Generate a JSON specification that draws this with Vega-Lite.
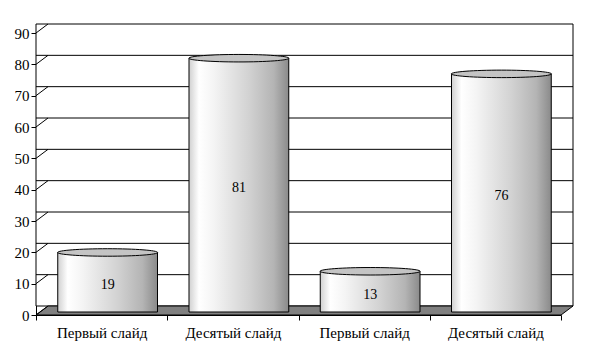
{
  "$schema": "https://vega.github.io/schema/vega-lite/v6.json",
  "autosize": "none",
  "width": 525,
  "height": 282,
  "padding": {"left": 36, "top": 33, "right": 30, "bottom": 37},
  "background": "white",
  "config": {
    "view": {"stroke": null},
    "font": "'Liberation Serif', 'DejaVu Serif', serif",
    "axis": {"labelFont": "'Liberation Serif', 'DejaVu Serif', serif", "labelFontSize": 15, "labelColor": "black", "domainColor": "black", "tickColor": "black", "title": null, "grid": false},
    "text": {"font": "'Liberation Serif', 'DejaVu Serif', serif", "fontSize": 14, "color": "black"}
  },
  "datasets": {
    "bars": [
      {"id": "a", "label": "Первый слайд", "value": 19},
      {"id": "b", "label": "Десятый слайд", "value": 81},
      {"id": "c", "label": "Первый слайд", "value": 13},
      {"id": "d", "label": "Десятый слайд", "value": 76}
    ],
    "ticks": [{"v": 0}, {"v": 10}, {"v": 20}, {"v": 30}, {"v": 40}, {"v": 50}, {"v": 60}, {"v": 70}, {"v": 80}, {"v": 90}],
    "frame": [{"lo": 0, "hi": 90, "first": "a"}]
  },
  "layer": [
    {
      "data": {"name": "frame"},
      "mark": {"type": "rect", "fill": "white", "stroke": "black", "strokeWidth": 1, "xOffset": 12, "yOffset": -9, "y2Offset": -9},
      "encoding": {
        "y": {"field": "lo", "type": "quantitative", "scale": {"domain": [0, 90]},
          "axis": {"values": [0, 10, 20, 30, 40, 50, 60, 70, 80, 90], "title": null, "tickSize": 5, "labelPadding": 2, "labelFont": "'Liberation Serif', 'DejaVu Serif', serif", "labelFontSize": 15, "labelColor": "black"}},
        "y2": {"field": "hi"}
      }
    },
    {
      "data": {"name": "ticks"},
      "transform": [{"filter": "datum.v > 0 && datum.v < 90"}],
      "mark": {"type": "rule", "color": "black", "strokeWidth": 1, "xOffset": 12, "yOffset": -9},
      "encoding": {"y": {"field": "v", "type": "quantitative",
        "axis": {"values": [0, 10, 20, 30, 40, 50, 60, 70, 80, 90], "title": null, "tickSize": 5, "labelPadding": 2, "labelFont": "'Liberation Serif', 'DejaVu Serif', serif", "labelFontSize": 15, "labelColor": "black"}}}
    },
    {
      "data": {"name": "frame"},
      "mark": {"type": "point", "filled": true, "fill": "#808080", "stroke": "black", "strokeWidth": 1, "opacity": 1,
        "size": 1102500, "shape": "M0,0 L1,0 L1.02286,-0.01714 L0.02286,-0.01714 Z"},
      "encoding": {
        "x": {"field": "first", "type": "nominal", "bandPosition": 0, "sort": null,
          "scale": {"domain": ["a", "b", "c", "d"], "paddingInner": 0, "paddingOuter": 0},
          "axis": {"title": null, "labelAngle": 0, "tickBand": "extent", "bandPosition": 0.5, "tickSize": 5, "labelPadding": 5,
            "labelFont": "'Liberation Serif', 'DejaVu Serif', serif", "labelFontSize": 15, "labelColor": "black",
            "labelExpr": "datum.value == 'a' || datum.value == 'c' ? 'Первый слайд' : (datum.value == 'b' || datum.value == 'd' ? 'Десятый слайд' : '')"}},
        "y": {"field": "lo", "type": "quantitative",
          "axis": {"values": [0, 10, 20, 30, 40, 50, 60, 70, 80, 90], "title": null, "tickSize": 5, "labelPadding": 2, "labelFont": "'Liberation Serif', 'DejaVu Serif', serif", "labelFontSize": 15, "labelColor": "black"}}
      }
    },
    {
      "data": {"name": "ticks"},
      "transform": [{"calculate": "'a'", "as": "first"}],
      "mark": {"type": "point", "filled": false, "stroke": "black", "strokeWidth": 1, "opacity": 1,
        "size": 576, "shape": "M0,0 L1,-0.75"},
      "encoding": {
        "x": {"field": "first", "type": "nominal", "bandPosition": 0, "sort": null,
          "axis": {"title": null, "labelAngle": 0, "tickBand": "extent", "bandPosition": 0.5, "tickSize": 5, "labelPadding": 5,
            "labelFont": "'Liberation Serif', 'DejaVu Serif', serif", "labelFontSize": 15, "labelColor": "black",
            "labelExpr": "datum.value == 'a' || datum.value == 'c' ? 'Первый слайд' : (datum.value == 'b' || datum.value == 'd' ? 'Десятый слайд' : '')"}},
        "y": {"field": "v", "type": "quantitative",
          "axis": {"values": [0, 10, 20, 30, 40, 50, 60, 70, 80, 90], "title": null, "tickSize": 5, "labelPadding": 2, "labelFont": "'Liberation Serif', 'DejaVu Serif', serif", "labelFontSize": 15, "labelColor": "black"}}
      }
    },
    {
      "data": {"name": "bars"},
      "mark": {"type": "bar", "width": {"band": 0.76}, "xOffset": 6, "yOffset": -3, "stroke": "black", "strokeWidth": 1,
        "fill": {"gradient": "linear", "x1": 0, "y1": 0, "x2": 1, "y2": 0,
          "stops": [
            {"offset": 0, "color": "#d0d0d0"},
            {"offset": 0.1, "color": "#ffffff"},
            {"offset": 0.25, "color": "#f4f4f4"},
            {"offset": 0.6, "color": "#d2d2d2"},
            {"offset": 0.85, "color": "#b4b4b4"},
            {"offset": 1, "color": "#8a8a8a"}
          ]}},
      "encoding": {
        "x": {"field": "id", "type": "nominal", "sort": null,
          "axis": {"title": null, "labelAngle": 0, "tickBand": "extent", "bandPosition": 0.5, "tickSize": 5, "labelPadding": 5,
            "labelFont": "'Liberation Serif', 'DejaVu Serif', serif", "labelFontSize": 15, "labelColor": "black",
            "labelExpr": "datum.value == 'a' || datum.value == 'c' ? 'Первый слайд' : (datum.value == 'b' || datum.value == 'd' ? 'Десятый слайд' : '')"}},
        "y": {"field": "value", "type": "quantitative",
          "axis": {"values": [0, 10, 20, 30, 40, 50, 60, 70, 80, 90], "title": null, "tickSize": 5, "labelPadding": 2, "labelFont": "'Liberation Serif', 'DejaVu Serif', serif", "labelFontSize": 15, "labelColor": "black"}}
      }
    },
    {
      "data": {"name": "bars"},
      "mark": {"type": "point", "filled": true, "fill": "#c4c4c4", "stroke": "black", "strokeWidth": 1, "opacity": 1,
        "xOffset": 6, "yOffset": -3, "size": 10000,
        "shape": "M-1,0 A1,0.075 0 1,1 1,0 A1,0.075 0 1,1 -1,0 Z"},
      "encoding": {
        "x": {"field": "id", "type": "nominal", "sort": null,
          "axis": {"title": null, "labelAngle": 0, "tickBand": "extent", "bandPosition": 0.5, "tickSize": 5, "labelPadding": 5,
            "labelFont": "'Liberation Serif', 'DejaVu Serif', serif", "labelFontSize": 15, "labelColor": "black",
            "labelExpr": "datum.value == 'a' || datum.value == 'c' ? 'Первый слайд' : (datum.value == 'b' || datum.value == 'd' ? 'Десятый слайд' : '')"}},
        "y": {"field": "value", "type": "quantitative",
          "axis": {"values": [0, 10, 20, 30, 40, 50, 60, 70, 80, 90], "title": null, "tickSize": 5, "labelPadding": 2, "labelFont": "'Liberation Serif', 'DejaVu Serif', serif", "labelFontSize": 15, "labelColor": "black"}}
      }
    },
    {
      "data": {"name": "bars"},
      "transform": [{"calculate": "datum.value / 2", "as": "mid"}],
      "mark": {"type": "text", "xOffset": 6, "font": "'Liberation Serif', 'DejaVu Serif', serif", "fontSize": 14, "color": "black"},
      "encoding": {
        "x": {"field": "id", "type": "nominal", "sort": null,
          "axis": {"title": null, "labelAngle": 0, "tickBand": "extent", "bandPosition": 0.5, "tickSize": 5, "labelPadding": 5,
            "labelFont": "'Liberation Serif', 'DejaVu Serif', serif", "labelFontSize": 15, "labelColor": "black",
            "labelExpr": "datum.value == 'a' || datum.value == 'c' ? 'Первый слайд' : (datum.value == 'b' || datum.value == 'd' ? 'Десятый слайд' : '')"}},
        "y": {"field": "mid", "type": "quantitative",
          "axis": {"values": [0, 10, 20, 30, 40, 50, 60, 70, 80, 90], "title": null, "tickSize": 5, "labelPadding": 2, "labelFont": "'Liberation Serif', 'DejaVu Serif', serif", "labelFontSize": 15, "labelColor": "black"}},
        "text": {"field": "value", "type": "quantitative"}
      }
    }
  ]
}
